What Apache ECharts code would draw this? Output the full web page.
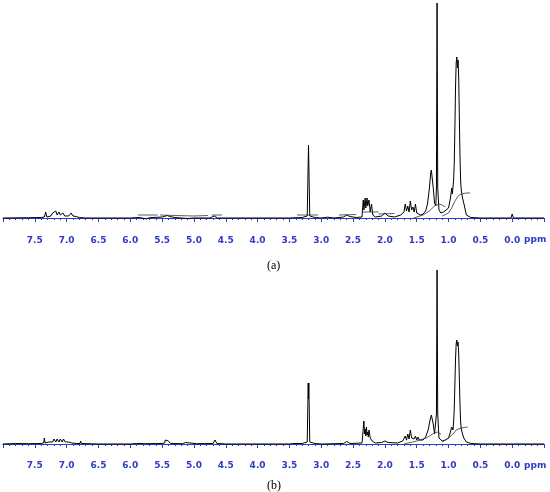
<!DOCTYPE html>
<html>
<head>
<meta charset="utf-8">
<script src="https://cdn.jsdelivr.net/npm/echarts@6/dist/echarts.min.js"></script>
<style>html,body{margin:0;padding:0;background:#fff}#c{width:550px;height:492px}</style>
</head>
<body>
<div id="c"></div>
<script>
// Tick labels (ppm)
var tickLabels = ['7.5','7.0','6.5','6.0','5.5','5.0','4.5','4.0','3.5','3.0','2.5','2.0','1.5','1.0','0.5','0.0'];
var panelLabels = ['(a)', '(b)'];

// Spectrum (a): [ppm, intensity]
var spectrumA = [
  [8.0,0],[7.6,0.3],[7.4,0.5],[7.35,1],[7.33,6],[7.31,1],[7.25,2],[7.22,5],[7.2,3],[7.17,7],[7.15,3],
  [7.12,6],[7.1,3],[7.06,5],[7.03,2],[7.0,4],[6.97,2],[6.93,5],[6.9,2],[6.85,1.5],[6.8,0.5],[6.7,0],
  [6.0,0],[5.85,0.5],[5.75,-1],[5.7,0.3],[5.5,1],[5.42,2.5],[5.38,1.5],[5.3,0.5],[5.1,-0.5],[5.0,0],
  [4.75,0],[4.68,2],[4.63,0],[3.5,0],[3.3,0.5],[3.22,2],[3.2,73],[3.18,2],[3.1,0.5],[3.0,0],
  [2.9,0.8],[2.8,0],[2.65,1],[2.6,3],[2.55,1.5],[2.45,0.5],[2.36,1],[2.34,18],[2.33,8],[2.31,20],
  [2.3,10],[2.28,20],[2.27,12],[2.25,18],[2.23,6],[2.21,14],[2.19,3],[2.15,1],[2.05,2],[2.0,5],
  [1.95,2],[1.85,1],[1.75,3],[1.7,6],[1.68,14],[1.66,7],[1.64,12],[1.62,6],[1.6,17],[1.58,8],
  [1.56,11],[1.54,6],[1.52,14],[1.5,5],[1.47,6],[1.44,3],[1.4,4],[1.36,7],[1.33,14],[1.3,30],
  [1.28,45],[1.27,48],[1.26,46],[1.24,30],[1.22,15],[1.2,12],[1.19,30],[1.18,215],[1.17,30],[1.15,8],
  [1.12,5],[1.08,6],[1.05,7],[1.0,10],[0.97,20],[0.95,30],[0.94,24],[0.93,26],[0.92,38],[0.91,55],
  [0.9,90],[0.89,130],[0.88,155],[0.87,161],[0.86,150],[0.85,158],[0.84,140],[0.83,100],[0.82,62],
  [0.81,38],[0.8,28],[0.78,20],[0.77,22],[0.75,12],[0.72,3],[0.65,0.5],[0.5,0],[0.02,0],[0.0,4],
  [-0.02,0],[-0.5,0]
];
// Integral traces (a); null breaks the line
var integralA = [
  [5.88,3],[5.57,3],[5.55,null],
  [5.53,3],[5.3,2.5],[5.0,2],[4.78,2.5],[4.75,null],
  [4.72,3],[4.56,3],[4.5,null],
  [3.38,3],[3.05,3],[3.0,null],
  [2.72,3],[2.45,3.5],[2.4,null],
  [2.36,6],[2.1,6],[2.09,null],
  [2.1,4],[1.85,4.5],[1.8,null],
  [1.55,0],[1.4,3],[1.3,7],[1.22,12],[1.15,14],[1.1,13],[1.05,11],[1.04,null],
  [1.1,2],[1.0,5],[0.95,10],[0.9,17],[0.85,22],[0.8,24],[0.72,25],[0.66,25]
];

// Spectrum (b): [ppm, intensity]
var spectrumB = [
  [8.0,0],[7.8,0.5],[7.6,0.3],[7.4,0.5],[7.36,1],[7.35,6],[7.34,1],[7.28,2],[7.25,4],[7.22,2],
  [7.2,5],[7.17,2],[7.15,5],[7.12,2],[7.1,5],[7.07,2],[7.05,5],[7.02,2],[7.0,4],[6.97,2],[6.95,4],
  [6.92,1],[6.85,0.5],[6.79,0.5],[6.78,3],[6.77,0.5],[6.5,0],[6.0,0],[5.9,0.5],[5.76,0.3],[5.75,1.5],
  [5.74,0.3],[5.5,0.5],[5.46,1],[5.45,4],[5.43,2],[5.42,4],[5.4,3],[5.37,0.5],[5.18,0.3],[5.17,1.5],
  [5.15,0.3],[5.13,1.5],[5.11,0.3],[4.96,0.3],[4.95,1.5],[4.94,0.3],[4.7,0.5],[4.67,4],[4.64,0.5],
  [4.5,0],[3.5,0],[3.45,0.5],[3.3,0.5],[3.22,2],[3.205,61],[3.2,45],[3.195,61],[3.18,2],[3.1,0.5],
  [3.0,0],[2.65,0.5],[2.6,2.5],[2.55,0.5],[2.36,1],[2.34,15],[2.33,23],[2.32,10],[2.31,15],
  [2.3,8],[2.29,17],[2.28,9],[2.27,12],[2.26,7],[2.25,14],[2.23,6],[2.22,8],[2.2,3],[2.15,1],
  [2.05,1.5],[2.0,3],[1.95,1.5],[1.8,1],[1.72,3],[1.68,8],[1.66,4],[1.64,10],[1.62,5],[1.6,14],
  [1.58,6],[1.56,8],[1.54,5],[1.52,8],[1.5,4],[1.48,7],[1.46,4],[1.44,6],[1.4,4],[1.36,7],
  [1.32,14],[1.29,24],[1.27,29],[1.26,30],[1.24,20],[1.22,10],[1.2,12],[1.19,30],[1.18,174],[1.17,30],
  [1.15,6],[1.1,3],[1.05,4],[1.0,6],[0.97,12],[0.95,17],[0.93,14],[0.92,22],[0.91,35],[0.9,60],
  [0.89,85],[0.88,100],[0.87,104],[0.86,98],[0.85,102],[0.84,90],[0.83,65],[0.82,40],[0.81,22],
  [0.8,15],[0.78,10],[0.76,6],[0.72,2],[0.65,0.5],[0.5,0],[0.02,0],[0.0,2],[-0.02,0],[-0.5,0]
];
// Integral traces (b)
var integralB = [
  [1.7,0],[1.5,3],[1.35,6],[1.25,10],[1.18,12],[1.12,10],[1.11,null],
  [1.1,2],[1.0,6],[0.93,10],[0.88,14],[0.8,16],[0.7,17]
];

var blue = '#2c3cc6';
function xAxisFor(idx) {
  return {
    type: 'value', gridIndex: idx, min: -0.5, max: 8.0, interval: 0.5, inverse: true,
    axisLine: { show: true, lineStyle: { color: blue, width: 1 } },
    axisTick: { show: true, length: 4, lineStyle: { color: blue } },
    minorTick: { show: true, splitNumber: 5, length: 2, lineStyle: { color: blue } },
    splitLine: { show: false },
    axisLabel: {
      color: blue, fontSize: 9, fontWeight: 'bold', fontFamily: '"DejaVu Sans", Verdana, sans-serif', margin: 6,
      formatter: function (v) {
        var s = v.toFixed(1);
        return tickLabels.indexOf(s) >= 0 ? s : '';
      }
    }
  };
}
function yAxisFor(idx, mn, mx) {
  return { type: 'value', gridIndex: idx, min: mn, max: mx, show: false, splitLine: { show: false } };
}
var lineBase = { type: 'line', showSymbol: false, symbol: 'none', silent: true, animation: false, connectNulls: false };

var chart = echarts.init(document.getElementById('c'), null, { renderer: 'canvas' });
chart.setOption({
  animation: false,
  backgroundColor: '#fff',
  grid: [
    { left: 3, right: 6, top: 3, height: 227 },
    { left: 3, right: 6, top: 269, height: 186 }
  ],
  xAxis: [xAxisFor(0), xAxisFor(1)],
  yAxis: [yAxisFor(0, -12, 215), yAxisFor(1, -11, 175)],
  series: [
    Object.assign({}, lineBase, { xAxisIndex: 0, yAxisIndex: 0, data: spectrumA, lineStyle: { color: '#000', width: 1 } }),
    Object.assign({}, lineBase, { xAxisIndex: 0, yAxisIndex: 0, data: integralA, lineStyle: { color: '#333', width: 0.8 } }),
    Object.assign({}, lineBase, { xAxisIndex: 1, yAxisIndex: 1, data: spectrumB, lineStyle: { color: '#000', width: 1 } }),
    Object.assign({}, lineBase, { xAxisIndex: 1, yAxisIndex: 1, data: integralB, lineStyle: { color: '#333', width: 0.8 } })
  ],
  graphic: [
    { type: 'text', left: 524, top: 235, style: { text: 'ppm', fill: blue, font: 'bold 9px "DejaVu Sans", Verdana, sans-serif' } },
    { type: 'text', left: 524, top: 461, style: { text: 'ppm', fill: blue, font: 'bold 9px "DejaVu Sans", Verdana, sans-serif' } },
    { type: 'text', left: 267, top: 260, style: { text: panelLabels[0], fill: '#000', font: '12px "Liberation Serif", serif' } },
    { type: 'text', left: 267, top: 480, style: { text: panelLabels[1], fill: '#000', font: '12px "Liberation Serif", serif' } }
  ]
});
</script>
</body>
</html>
